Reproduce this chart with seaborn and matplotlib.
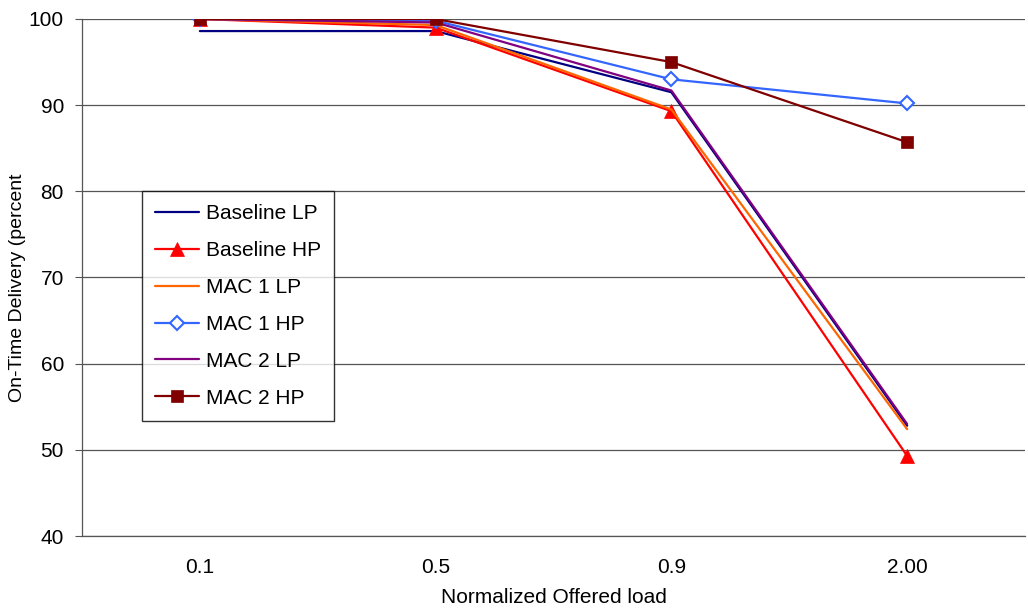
import matplotlib
matplotlib.use("Agg")
import matplotlib.pyplot as plt
import seaborn as sns
import pandas as pd

# Chart data
loads = ["0.1", "0.5", "0.9", "2.00"]
baseline_lp = [98.6, 98.6, 91.5, 52.8]
baseline_hp = [100.0, 99.0, 89.3, 49.3]
mac1_lp = [100.0, 99.3, 89.5, 52.4]
mac1_hp = [100.0, 99.8, 93.0, 90.2]
mac2_lp = [100.0, 99.6, 91.7, 53.0]
mac2_hp = [100.0, 100.0, 95.0, 85.7]

series = [
    ("Baseline LP", baseline_lp, "#000080", None, "#000080"),
    ("Baseline HP", baseline_hp, "#FF0000", "^", "#FF0000"),
    ("MAC 1 LP", mac1_lp, "#FF6600", None, "#FF6600"),
    ("MAC 1 HP", mac1_hp, "#3366FF", "D", "white"),
    ("MAC 2 LP", mac2_lp, "#800080", None, "#800080"),
    ("MAC 2 HP", mac2_hp, "#800000", "s", "#800000"),
]
marker_sizes = {"^": 10, "D": 7, "s": 8}

sns.set_style("white")
plt.rcParams["font.family"] = ["Liberation Sans", "DejaVu Sans"]
plt.rcParams["text.color"] = "black"
plt.rcParams["axes.labelcolor"] = "black"
plt.rcParams["xtick.color"] = "black"
plt.rcParams["ytick.color"] = "black"

fig = plt.figure(figsize=(10.28, 6.13), dpi=100)
ax = fig.add_axes([82 / 1028, 77 / 613, 943 / 1028, 517 / 613])

positions = list(range(len(loads)))
for name, values, color, marker, face in series:
    df = pd.DataFrame({"x": positions, "y": values})
    sns.lineplot(data=df, x="x", y="y", ax=ax, color=color, label=name,
                 linewidth=1.6, marker=marker if marker else "",
                 markersize=marker_sizes.get(marker, 0),
                 markerfacecolor=face, markeredgecolor=color,
                 markeredgewidth=1.5 if marker == "D" else 0.5)

ax.set_xlim(-0.5, len(loads) - 0.5)
ax.set_ylim(40, 100)
ax.set_yticks(range(40, 101, 10))
ax.set_xticks(positions)
ax.set_xticklabels(loads)
ax.set_xticks([p - 0.5 for p in positions] + [len(loads) - 0.5], minor=True)
ax.tick_params(axis="x", which="major", length=0, labelsize=15, pad=16)
ax.tick_params(axis="x", which="minor", length=7, direction="out", width=0.8, color="#555555")
ax.tick_params(axis="y", length=5, direction="out", width=0.8, labelsize=15,
               color="#555555", left=True, pad=8)
ax.yaxis.grid(True, color="#555555", linewidth=0.9)
ax.set_axisbelow(True)

for side in ["top", "right"]:
    ax.spines[side].set_visible(False)
for side in ["left", "bottom"]:
    ax.spines[side].set_color("#555555")
    ax.spines[side].set_linewidth(0.9)

ax.set_xlabel("Normalized Offered load", fontsize=15, labelpad=8)
ax.set_ylabel("On-Time Delivery (percent", fontsize=14)
ax.yaxis.set_label_coords(-0.059, 0.48)

leg = ax.legend(loc="upper left", bbox_to_anchor=(0.064, 0.667), fontsize=15,
                frameon=True, fancybox=False, edgecolor="black",
                labelspacing=0.86, handlelength=2.1, borderpad=0.62,
                handletextpad=0.35, borderaxespad=0)
leg.get_frame().set_linewidth(1.0)

fig.savefig("out.png", dpi=100)
